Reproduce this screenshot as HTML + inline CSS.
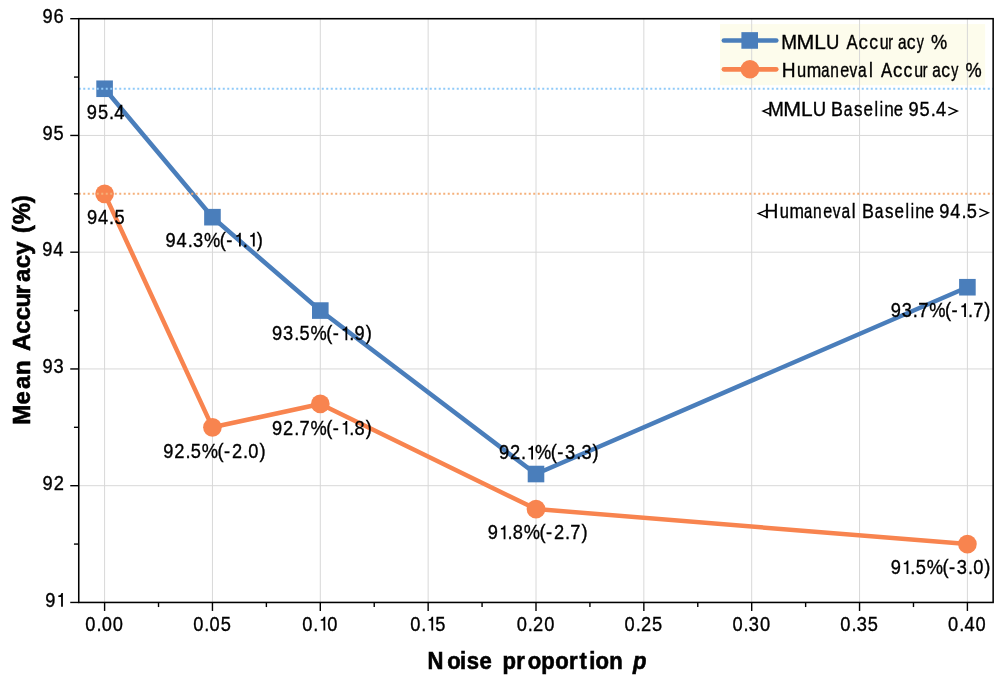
<!DOCTYPE html>
<html><head><meta charset="utf-8"><title>chart</title>
<style>
html,body{margin:0;padding:0;background:#fff;}
body{width:996px;height:678px;overflow:hidden;}
svg{display:block;will-change:transform;}
text{font-family:"Liberation Sans",sans-serif;fill:#000;stroke:#000;stroke-width:0.35px;vector-effect:non-scaling-stroke;}
.t{font-size:20.3px;}
.b{font-size:24px;font-weight:bold;stroke-width:0.6px;}
</style></head><body>

<svg width="996" height="678" viewBox="0 0 996 678">
<rect x="0" y="0" width="996" height="678" fill="#fff"/>
<rect x="720.05" y="24.1" width="265.1" height="61.1" fill="#FDFCEC"/>
<g stroke="#d8d8d8" stroke-width="1" fill="none">
<line x1="104.60" y1="18.70" x2="104.60" y2="602.45"/>
<line x1="212.45" y1="18.70" x2="212.45" y2="602.45"/>
<line x1="320.30" y1="18.70" x2="320.30" y2="602.45"/>
<line x1="428.15" y1="18.70" x2="428.15" y2="602.45"/>
<line x1="536.00" y1="18.70" x2="536.00" y2="602.45"/>
<line x1="643.85" y1="18.70" x2="643.85" y2="602.45"/>
<line x1="751.70" y1="18.70" x2="751.70" y2="602.45"/>
<line x1="859.55" y1="18.70" x2="859.55" y2="602.45"/>
<line x1="967.40" y1="18.70" x2="967.40" y2="602.45"/>
<line x1="78.75" y1="602.45" x2="993.15" y2="602.45"/>
<line x1="78.75" y1="485.70" x2="993.15" y2="485.70"/>
<line x1="78.75" y1="368.95" x2="993.15" y2="368.95"/>
<line x1="78.75" y1="252.20" x2="993.15" y2="252.20"/>
<line x1="78.75" y1="135.45" x2="993.15" y2="135.45"/>
<line x1="78.75" y1="18.70" x2="993.15" y2="18.70"/>
</g>
<polyline fill="none" stroke="#4A7EBB" stroke-width="4.5" stroke-linejoin="round" points="104.60,88.75 212.45,217.18 320.30,310.57 536.00,474.03 967.40,287.22"/>
<rect x="96.30" y="80.45" width="16.6" height="16.6" fill="#4A7EBB"/>
<rect x="204.15" y="208.88" width="16.6" height="16.6" fill="#4A7EBB"/>
<rect x="312.00" y="302.27" width="16.6" height="16.6" fill="#4A7EBB"/>
<rect x="527.70" y="465.73" width="16.6" height="16.6" fill="#4A7EBB"/>
<rect x="959.10" y="278.92" width="16.6" height="16.6" fill="#4A7EBB"/>
<polyline fill="none" stroke="#F8844F" stroke-width="4.5" stroke-linejoin="round" points="104.60,193.82 212.45,427.32 320.30,403.97 536.00,509.05 967.40,544.08"/>
<circle cx="104.60" cy="193.82" r="9.35" fill="#F8844F"/>
<circle cx="212.45" cy="427.32" r="9.35" fill="#F8844F"/>
<circle cx="320.30" cy="403.97" r="9.35" fill="#F8844F"/>
<circle cx="536.00" cy="509.05" r="9.35" fill="#F8844F"/>
<circle cx="967.40" cy="544.08" r="9.35" fill="#F8844F"/>
<line x1="78.75" y1="88.75" x2="993.15" y2="88.75" stroke="#90CAF9" stroke-width="2" stroke-dasharray="2 2.5"/>
<line x1="78.75" y1="193.82" x2="993.15" y2="193.82" stroke="#F5B07A" stroke-width="2" stroke-dasharray="2 2.5"/>
<line x1="723.9" y1="40.5" x2="776.25" y2="40.5" stroke="#4A7EBB" stroke-width="4.7" stroke-linecap="round"/>
<rect x="741.4" y="32.15" width="16.6" height="16.6" fill="#4A7EBB"/>
<line x1="723.9" y1="69.3" x2="776.25" y2="69.3" stroke="#F8844F" stroke-width="4.7" stroke-linecap="round"/>
<circle cx="749.95" cy="69.25" r="9.35" fill="#F8844F"/>
<g fill="none" stroke="#000" stroke-width="1.4" stroke-linejoin="miter">
<path d="M770.6,107.9 L763,111.1 L770.6,114.3"/>
<path d="M948.3,107.1 L957.3,111 L948.3,115.1"/>
<path d="M767.2,209.8 L758.3,213.6 L767.2,217.4"/>
<path d="M979.3,208.8 L988.3,212.8 L979.3,216.8"/>
</g>
<text class="t" transform="translate(0,630.50) scale(0.900,1)"><tspan x="94.80">0</tspan><tspan x="107.13">.</tspan><tspan x="113.02">0</tspan><tspan x="125.36">0</tspan></text>
<text class="t" transform="translate(0,630.50) scale(0.900,1)"><tspan x="214.66">0</tspan><tspan x="227.00">.</tspan><tspan x="232.88">0</tspan><tspan x="245.22">5</tspan></text>
<text class="t" transform="translate(0,630.50) scale(0.900,1)"><tspan x="335.86">0</tspan><tspan x="348.19">.</tspan><tspan x="363.63">0</tspan></text><path d="M325.27,630.50 L325.27,616.80 L323.92,616.80 Q323.37,619.30 320.67,619.40 L320.67,620.75 L323.47,620.75 L323.47,630.50 Z" fill="#000"/>
<text class="t" transform="translate(0,630.50) scale(0.900,1)"><tspan x="455.72">0</tspan><tspan x="468.05">.</tspan><tspan x="483.50">5</tspan></text><path d="M433.15,630.50 L433.15,616.80 L431.80,616.80 Q431.25,619.30 428.55,619.40 L428.55,620.75 L431.35,620.75 L431.35,630.50 Z" fill="#000"/>
<text class="t" transform="translate(0,630.50) scale(0.900,1)"><tspan x="574.13">0</tspan><tspan x="586.47">.</tspan><tspan x="592.36">2</tspan><tspan x="604.69">0</tspan></text>
<text class="t" transform="translate(0,630.50) scale(0.900,1)"><tspan x="694.00">0</tspan><tspan x="706.33">.</tspan><tspan x="712.22">2</tspan><tspan x="724.55">5</tspan></text>
<text class="t" transform="translate(0,630.50) scale(0.900,1)"><tspan x="813.80">0</tspan><tspan x="826.13">.</tspan><tspan x="832.02">3</tspan><tspan x="844.36">0</tspan></text>
<text class="t" transform="translate(0,630.50) scale(0.900,1)"><tspan x="933.66">0</tspan><tspan x="946.00">.</tspan><tspan x="951.88">3</tspan><tspan x="964.22">5</tspan></text>
<text class="t" transform="translate(0,630.50) scale(0.900,1)"><tspan x="1053.47">0</tspan><tspan x="1065.80">.</tspan><tspan x="1071.69">4</tspan><tspan x="1084.02">0</tspan></text>
<text class="t" transform="translate(0,606.70) scale(0.900,1)"><tspan x="50.22">9</tspan></text><path d="M62.90,606.70 L62.90,593.00 L61.55,593.00 Q61.00,595.50 58.30,595.60 L58.30,596.95 L61.10,596.95 L61.10,606.70 Z" fill="#000"/>
<text class="t" transform="translate(0,489.95) scale(0.900,1)"><tspan x="47.29">9</tspan><tspan x="59.62">2</tspan></text>
<text class="t" transform="translate(0,373.20) scale(0.900,1)"><tspan x="47.16">9</tspan><tspan x="59.49">3</tspan></text>
<text class="t" transform="translate(0,256.45) scale(0.900,1)"><tspan x="46.86">9</tspan><tspan x="59.19">4</tspan></text>
<text class="t" transform="translate(0,139.70) scale(0.900,1)"><tspan x="47.12">9</tspan><tspan x="59.45">5</tspan></text>
<text class="t" transform="translate(0,22.95) scale(0.900,1)"><tspan x="47.16">9</tspan><tspan x="59.49">6</tspan></text>
<text class="t" transform="translate(0,118.90) scale(0.900,1)"><tspan x="96.45">9</tspan><tspan x="108.79">5</tspan><tspan x="121.12">.</tspan><tspan x="127.01">4</tspan></text>
<text class="t" transform="translate(0,223.90) scale(0.900,1)"><tspan x="96.58">9</tspan><tspan x="108.92">4</tspan><tspan x="121.25">.</tspan><tspan x="127.14">5</tspan></text>
<text class="t" transform="translate(0,246.50) scale(0.900,1)"><tspan x="183.88">9</tspan><tspan x="196.22">4</tspan><tspan x="208.55">.</tspan><tspan x="214.44">3</tspan><tspan x="226.77">%</tspan><tspan x="244.27">(</tspan><tspan x="251.50">-</tspan><tspan x="269.77">.</tspan><tspan x="285.22">)</tspan></text><path d="M240.80,246.50 L240.80,232.80 L239.45,232.80 Q238.90,235.30 236.20,235.40 L236.20,236.75 L239.00,236.75 L239.00,246.50 Z" fill="#000"/><path d="M254.70,246.50 L254.70,232.80 L253.35,232.80 Q252.80,235.30 250.10,235.40 L250.10,236.75 L252.90,236.75 L252.90,246.50 Z" fill="#000"/>
<text class="t" transform="translate(0,340.20) scale(0.900,1)"><tspan x="302.16">9</tspan><tspan x="314.50">3</tspan><tspan x="326.83">.</tspan><tspan x="332.72">5</tspan><tspan x="345.05">%</tspan><tspan x="362.55">(</tspan><tspan x="369.77">-</tspan><tspan x="388.05">.</tspan><tspan x="393.94">9</tspan><tspan x="406.27">)</tspan></text><path d="M347.25,340.20 L347.25,326.50 L345.90,326.50 Q345.35,329.00 342.65,329.10 L342.65,330.45 L345.45,330.45 L345.45,340.20 Z" fill="#000"/>
<text class="t" transform="translate(0,459.40) scale(0.900,1)"><tspan x="554.33">9</tspan><tspan x="566.66">2</tspan><tspan x="579.00">.</tspan><tspan x="594.44">%</tspan><tspan x="611.94">(</tspan><tspan x="619.16">-</tspan><tspan x="627.88">3</tspan><tspan x="640.22">.</tspan><tspan x="646.11">3</tspan><tspan x="658.44">)</tspan></text><path d="M533.00,459.40 L533.00,445.70 L531.65,445.70 Q531.10,448.20 528.40,448.30 L528.40,449.65 L531.20,449.65 L531.20,459.40 Z" fill="#000"/>
<text class="t" transform="translate(0,316.90) scale(0.900,1)"><tspan x="989.61">9</tspan><tspan x="1001.94">3</tspan><tspan x="1014.27">.</tspan><tspan x="1020.16">7</tspan><tspan x="1032.50">%</tspan><tspan x="1050.00">(</tspan><tspan x="1057.22">-</tspan><tspan x="1075.50">.</tspan><tspan x="1081.38">7</tspan><tspan x="1093.72">)</tspan></text><path d="M965.95,316.90 L965.95,303.20 L964.60,303.20 Q964.05,305.70 961.35,305.80 L961.35,307.15 L964.15,307.15 L964.15,316.90 Z" fill="#000"/>
<text class="t" transform="translate(0,457.70) scale(0.900,1)"><tspan x="181.33">9</tspan><tspan x="193.66">2</tspan><tspan x="206.00">.</tspan><tspan x="211.88">5</tspan><tspan x="224.22">%</tspan><tspan x="241.72">(</tspan><tspan x="248.94">-</tspan><tspan x="257.66">2</tspan><tspan x="270.00">.</tspan><tspan x="275.88">0</tspan><tspan x="288.22">)</tspan></text>
<text class="t" transform="translate(0,434.60) scale(0.900,1)"><tspan x="302.16">9</tspan><tspan x="314.50">2</tspan><tspan x="326.83">.</tspan><tspan x="332.72">7</tspan><tspan x="345.05">%</tspan><tspan x="362.55">(</tspan><tspan x="369.77">-</tspan><tspan x="388.05">.</tspan><tspan x="393.94">8</tspan><tspan x="406.27">)</tspan></text><path d="M347.25,434.60 L347.25,420.90 L345.90,420.90 Q345.35,423.40 342.65,423.50 L342.65,424.85 L345.45,424.85 L345.45,434.60 Z" fill="#000"/>
<text class="t" transform="translate(0,539.30) scale(0.900,1)"><tspan x="541.94">9</tspan><tspan x="563.83">.</tspan><tspan x="569.72">8</tspan><tspan x="582.05">%</tspan><tspan x="599.55">(</tspan><tspan x="606.77">-</tspan><tspan x="615.50">2</tspan><tspan x="627.83">.</tspan><tspan x="633.72">7</tspan><tspan x="646.05">)</tspan></text><path d="M505.45,539.30 L505.45,525.60 L504.10,525.60 Q503.55,528.10 500.85,528.20 L500.85,529.55 L503.65,529.55 L503.65,539.30 Z" fill="#000"/>
<text class="t" transform="translate(0,574.10) scale(0.900,1)"><tspan x="989.61">9</tspan><tspan x="1011.50">.</tspan><tspan x="1017.38">5</tspan><tspan x="1029.72">%</tspan><tspan x="1047.22">(</tspan><tspan x="1054.44">-</tspan><tspan x="1063.16">3</tspan><tspan x="1075.50">.</tspan><tspan x="1081.38">0</tspan><tspan x="1093.72">)</tspan></text><path d="M908.35,574.10 L908.35,560.40 L907.00,560.40 Q906.45,562.90 903.75,563.00 L903.75,564.35 L906.55,564.35 L906.55,574.10 Z" fill="#000"/>
<text class="t" transform="translate(0,116.00) scale(0.935,1)" x="821.45">M</text><text class="t" transform="translate(0,116.00) scale(1.053,1)" x="743.88">M</text><text class="t" transform="translate(0,116.00) scale(1.028,1)" x="779.18">L</text><text class="t" transform="translate(0,116.00) scale(0.911,1)" x="892.11">U</text><text class="t" transform="translate(0,116.00) scale(0.879,1)" x="945.35">B</text><text class="t" transform="translate(0,116.00) scale(0.767,1)" x="1100.16">a</text><text class="t" transform="translate(0,116.00) scale(0.836,1)" x="1021.55">s</text><text class="t" transform="translate(0,116.00) scale(0.840,1)" x="1028.01">e</text><text class="t" transform="translate(0,116.00) scale(0.785,1)" x="1114.00">l</text><text class="t" transform="translate(0,116.00) scale(0.729,1)" x="1206.81">i</text><text class="t" transform="translate(0,116.00) scale(0.847,1)" x="1043.87">n</text><text class="t" transform="translate(0,116.00) scale(0.819,1)" x="1091.15">e</text>
<text class="t" transform="translate(0,116.00) scale(0.900,1)"><tspan x="1009.38">9</tspan><tspan x="1021.72">5</tspan><tspan x="1034.05">.</tspan><tspan x="1039.94">4</tspan></text>
<text class="t" transform="translate(0,217.60) scale(0.944,1)" x="809.90">H</text><text class="t" transform="translate(0,217.60) scale(0.812,1)" x="960.21">u</text><text class="t" transform="translate(0,217.60) scale(0.858,1)" x="920.06">m</text><text class="t" transform="translate(0,217.60) scale(0.729,1)" x="1102.81">a</text><text class="t" transform="translate(0,217.60) scale(0.765,1)" x="1062.61">n</text><text class="t" transform="translate(0,217.60) scale(0.798,1)" x="1031.66">e</text><text class="t" transform="translate(0,217.60) scale(0.759,1)" x="1097.21">v</text><text class="t" transform="translate(0,217.60) scale(0.767,1)" x="1097.03">a</text><text class="t" transform="translate(0,217.60) scale(0.841,1)" x="1012.76">l</text><text class="t" transform="translate(0,217.60) scale(0.879,1)" x="980.61">B</text><text class="t" transform="translate(0,217.60) scale(0.767,1)" x="1140.56">a</text><text class="t" transform="translate(0,217.60) scale(0.836,1)" x="1058.63">s</text><text class="t" transform="translate(0,217.60) scale(0.840,1)" x="1064.93">e</text><text class="t" transform="translate(0,217.60) scale(0.785,1)" x="1153.51">l</text><text class="t" transform="translate(0,217.60) scale(0.729,1)" x="1249.35">i</text><text class="t" transform="translate(0,217.60) scale(0.847,1)" x="1080.49">n</text><text class="t" transform="translate(0,217.60) scale(0.819,1)" x="1129.01">e</text>
<text class="t" transform="translate(0,217.60) scale(0.900,1)"><tspan x="1043.60">9</tspan><tspan x="1055.94">4</tspan><tspan x="1068.27">.</tspan><tspan x="1074.16">5</tspan></text>
<text class="b" transform="translate(0,668.70) scale(0.920,1)" x="464.81">N</text><text class="b" transform="translate(0,668.70) scale(0.920,1)" x="486.13">o</text><text class="b" transform="translate(0,668.70) scale(0.920,1)" x="500.06">i</text><text class="b" transform="translate(0,668.70) scale(0.920,1)" x="507.42">s</text><text class="b" transform="translate(0,668.70) scale(0.920,1)" x="521.24">e</text><text class="b" transform="translate(0,668.70) scale(0.920,1)" x="546.30">p</text><text class="b" transform="translate(0,668.70) scale(0.920,1)" x="561.24">r</text><text class="b" transform="translate(0,668.70) scale(0.920,1)" x="573.52">o</text><text class="b" transform="translate(0,668.70) scale(0.920,1)" x="588.25">p</text><text class="b" transform="translate(0,668.70) scale(0.920,1)" x="603.63">o</text><text class="b" transform="translate(0,668.70) scale(0.920,1)" x="618.42">r</text><text class="b" transform="translate(0,668.70) scale(0.920,1)" x="629.92">t</text><text class="b" transform="translate(0,668.70) scale(0.920,1)" x="640.50">i</text><text class="b" transform="translate(0,668.70) scale(0.920,1)" x="647.32">o</text><text class="b" transform="translate(0,668.70) scale(0.920,1)" x="662.33">n</text><text class="b" transform="translate(0,668.70) scale(0.920,1)" x="688.03" font-style="italic">p</text>
<text class="b" transform="translate(30.30,0) rotate(-90) scale(1.000,1)" x="-424.81">M</text><text class="b" transform="translate(30.30,0) rotate(-90) scale(1.000,1)" x="-404.44">e</text><text class="b" transform="translate(30.30,0) rotate(-90) scale(1.000,1)" x="-389.00">a</text><text class="b" transform="translate(30.30,0) rotate(-90) scale(1.000,1)" x="-375.08">n</text><text class="b" transform="translate(30.30,0) rotate(-90) scale(1.000,1)" x="-351.10">A</text><text class="b" transform="translate(30.30,0) rotate(-90) scale(1.000,1)" x="-333.74">c</text><text class="b" transform="translate(30.30,0) rotate(-90) scale(1.000,1)" x="-320.14">c</text><text class="b" transform="translate(30.30,0) rotate(-90) scale(1.000,1)" x="-307.49">u</text><text class="b" transform="translate(30.30,0) rotate(-90) scale(1.000,1)" x="-294.28">r</text><text class="b" transform="translate(30.30,0) rotate(-90) scale(1.000,1)" x="-282.00">a</text><text class="b" transform="translate(30.30,0) rotate(-90) scale(1.000,1)" x="-268.24">c</text><text class="b" transform="translate(30.30,0) rotate(-90) scale(1.000,1)" x="-255.09">y</text><text class="b" transform="translate(30.30,0) rotate(-90) scale(1.000,1)" x="-233.20">(</text><text class="b" transform="translate(30.30,0) rotate(-90) scale(1.000,1)" x="-224.20">%</text><text class="b" transform="translate(30.30,0) rotate(-90) scale(1.000,1)" x="-203.32">)</text>
<text class="t" transform="translate(0,48.70) scale(0.935,1)" x="835.56">M</text><text class="t" transform="translate(0,48.70) scale(1.053,1)" x="756.42">M</text><text class="t" transform="translate(0,48.70) scale(1.028,1)" x="792.02">L</text><text class="t" transform="translate(0,48.70) scale(0.911,1)" x="906.60">U</text><text class="t" transform="translate(0,48.70) scale(0.825,1)" x="1026.12">A</text><text class="t" transform="translate(0,48.70) scale(0.925,1)" x="928.24">c</text><text class="t" transform="translate(0,48.70) scale(0.868,1)" x="1001.40">c</text><text class="t" transform="translate(0,48.70) scale(0.789,1)" x="1115.05">u</text><text class="t" transform="translate(0,48.70) scale(0.700,1)" x="1269.08">r</text><text class="t" transform="translate(0,48.70) scale(0.758,1)" x="1184.58">a</text><text class="t" transform="translate(0,48.70) scale(0.868,1)" x="1044.70">c</text><text class="t" transform="translate(0,48.70) scale(0.700,1)" x="1309.66">y</text><text class="t" transform="translate(0,48.70) scale(0.897,1)" x="1038.01">%</text>
<text class="t" transform="translate(0,77.20) scale(0.944,1)" x="828.13">H</text><text class="t" transform="translate(0,77.20) scale(0.812,1)" x="981.64">u</text><text class="t" transform="translate(0,77.20) scale(0.858,1)" x="940.23">m</text><text class="t" transform="translate(0,77.20) scale(0.729,1)" x="1126.55">a</text><text class="t" transform="translate(0,77.20) scale(0.765,1)" x="1085.35">n</text><text class="t" transform="translate(0,77.20) scale(0.798,1)" x="1052.96">e</text><text class="t" transform="translate(0,77.20) scale(0.759,1)" x="1119.34">v</text><text class="t" transform="translate(0,77.20) scale(0.767,1)" x="1118.53">a</text><text class="t" transform="translate(0,77.20) scale(0.841,1)" x="1033.34">l</text><text class="t" transform="translate(0,77.20) scale(0.825,1)" x="1067.84">A</text><text class="t" transform="translate(0,77.20) scale(0.925,1)" x="965.41">c</text><text class="t" transform="translate(0,77.20) scale(0.868,1)" x="1041.02">c</text><text class="t" transform="translate(0,77.20) scale(0.789,1)" x="1158.67">u</text><text class="t" transform="translate(0,77.20) scale(0.700,1)" x="1318.22">r</text><text class="t" transform="translate(0,77.20) scale(0.758,1)" x="1229.98">a</text><text class="t" transform="translate(0,77.20) scale(0.868,1)" x="1084.32">c</text><text class="t" transform="translate(0,77.20) scale(0.700,1)" x="1358.81">y</text><text class="t" transform="translate(0,77.20) scale(0.897,1)" x="1076.34">%</text>
<rect x="78.75" y="18.70" width="914.40" height="583.75" fill="none" stroke="#000" stroke-width="1.55"/>
<g stroke="#000" stroke-width="1.4" fill="none">
<line x1="104.60" y1="602.45" x2="104.60" y2="610.95"/>
<line x1="212.45" y1="602.45" x2="212.45" y2="610.95"/>
<line x1="320.30" y1="602.45" x2="320.30" y2="610.95"/>
<line x1="428.15" y1="602.45" x2="428.15" y2="610.95"/>
<line x1="536.00" y1="602.45" x2="536.00" y2="610.95"/>
<line x1="643.85" y1="602.45" x2="643.85" y2="610.95"/>
<line x1="751.70" y1="602.45" x2="751.70" y2="610.95"/>
<line x1="859.55" y1="602.45" x2="859.55" y2="610.95"/>
<line x1="967.40" y1="602.45" x2="967.40" y2="610.95"/>
<line x1="158.52" y1="602.45" x2="158.52" y2="607.05"/>
<line x1="266.38" y1="602.45" x2="266.38" y2="607.05"/>
<line x1="374.23" y1="602.45" x2="374.23" y2="607.05"/>
<line x1="482.07" y1="602.45" x2="482.07" y2="607.05"/>
<line x1="589.92" y1="602.45" x2="589.92" y2="607.05"/>
<line x1="697.77" y1="602.45" x2="697.77" y2="607.05"/>
<line x1="805.63" y1="602.45" x2="805.63" y2="607.05"/>
<line x1="913.48" y1="602.45" x2="913.48" y2="607.05"/>
<line x1="70.25" y1="602.45" x2="78.75" y2="602.45"/>
<line x1="70.25" y1="485.70" x2="78.75" y2="485.70"/>
<line x1="70.25" y1="368.95" x2="78.75" y2="368.95"/>
<line x1="70.25" y1="252.20" x2="78.75" y2="252.20"/>
<line x1="70.25" y1="135.45" x2="78.75" y2="135.45"/>
<line x1="70.25" y1="18.70" x2="78.75" y2="18.70"/>
<line x1="73.95" y1="544.08" x2="78.75" y2="544.08"/>
<line x1="73.95" y1="427.32" x2="78.75" y2="427.32"/>
<line x1="73.95" y1="310.57" x2="78.75" y2="310.57"/>
<line x1="73.95" y1="193.82" x2="78.75" y2="193.82"/>
<line x1="73.95" y1="77.08" x2="78.75" y2="77.08"/>
</g>
</svg>
</body></html>
